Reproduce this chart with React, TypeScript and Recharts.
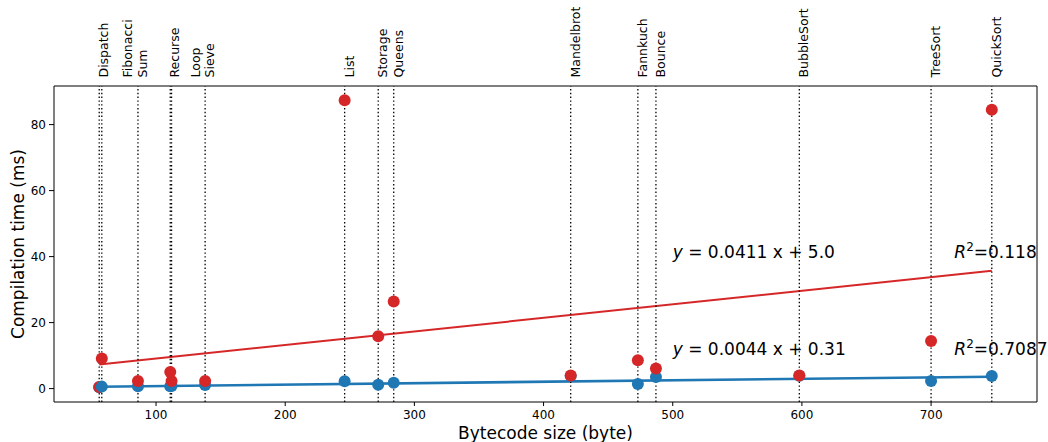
import React from 'react';
import { ComposedChart, Scatter, XAxis, YAxis, ReferenceLine, ReferenceDot } from 'recharts';

// bytecode size (byte) per benchmark, compile times (ms) for the two configurations
const sizes = [56, 58, 86, 111, 112, 138, 246, 272, 284, 421, 473, 487, 598, 700, 747];
const blueTimes = [0.4, 0.6, 0.7, 0.7, 0.8, 1.1, 2.2, 1.2, 1.8, 3.8, 1.4, 3.5, 3.9, 2.3, 3.8];
const redTimes = [0.5, 9.1, 2.3, 5.0, 2.3, 2.3, 87.4, 15.9, 26.4, 4.0, 8.6, 6.1, 4.0, 14.4, 84.5];

// benchmark names along the top, grouped where sizes are close
const labelGroups = [
  ['Dispatch'], ['Fibonacci', 'Sum'], ['Recurse'], ['Loop', 'Sieve'], ['List'], ['Storage'],
  ['Queens'], ['Mandelbrot'], ['Fannkuch'], ['Bounce'], ['BubbleSort'], ['TreeSort'], ['QuickSort'],
];
const labelAt = [56, 86, 111, 138, 246, 272, 284, 421, 473, 487, 598, 700, 747];

const xTicks = [100, 200, 300, 400, 500, 600, 700];
const yTicks = [0, 20, 40, 60, 80];

// least squares fits, end points
const redFit = [{ x: 56, y: 7.3 }, { x: 747, y: 35.7 }];
const blueFit = [{ x: 56, y: 0.56 }, { x: 747, y: 3.6 }];

const fitText = [
  { eq: ' = 0.0411 x + 5.0', r2: '=0.118', y: 39.6 },
  { eq: ' = 0.0044 x + 0.31', r2: '=0.7087', y: 10.3 },
];

const RED = '#d62728';
const BLUE = '#1f77b4';
const FONT = 'DejaVu Sans, sans-serif';
const X_DOMAIN = [21, 782];
const Y_DOMAIN = [-4.06, 91.7];

const points = sizes.flatMap((x, i) => [
  { x, y: blueTimes[i], s: 'blue' },
  { x, y: redTimes[i], s: 'red' },
]);

const Dot = (props: any) => {
  const s = props.payload?.s ?? props.s;
  return <circle cx={props.cx} cy={props.cy} r={6} fill={s === 'red' ? RED : BLUE} />;
};

const TopTick = (props: any) => {
  const { x, y, payload } = props;
  const idx = labelAt.indexOf(payload.value);
  const lines = labelGroups[idx] || [];
  return (
    <g>
      {lines.map((t, i) => (
        <text
          key={t}
          transform={`translate(${x + 9 - (lines.length - 1 - i) * 14.5},${y - 0.5}) rotate(-90)`}
          fontSize={12.5}
          fontFamily={FONT}
          fill="#000"
        >
          {t}
        </text>
      ))}
    </g>
  );
};

const EqLabel = (text: string) => (p: any) => (
  <text x={p.cx} y={p.cy} fontSize={17} fontFamily={FONT} fill="#000">
    <tspan fontStyle="italic">y</tspan>
    <tspan>{text}</tspan>
  </text>
);

const R2Label = (text: string) => (p: any) => (
  <text x={p.cx} y={p.cy} fontSize={17} fontFamily={FONT} fill="#000">
    <tspan fontStyle="italic">R</tspan>
    <tspan dy={-7} fontSize={12}>2</tspan>
    <tspan dy={7}>{text}</tspan>
  </text>
);

export default function App() {
  const tickStyle = { fill: '#000', fontSize: 12, fontFamily: FONT };
  return (
    <div style={{ position: 'absolute', left: 0, top: 0, fontFamily: FONT }}>
      <ComposedChart width={1048} height={442} margin={{ top: 0, right: 0, bottom: 0, left: 0 }} data={points}>
        <XAxis
          xAxisId="b"
          type="number"
          dataKey="x"
          domain={X_DOMAIN}
          allowDataOverflow
          ticks={xTicks}
          interval={0}
          height={40}
          tickSize={4}
          tickMargin={4}
          tick={tickStyle}
          axisLine={{ stroke: '#000' }}
          tickLine={{ stroke: '#000' }}
          label={{ value: 'Bytecode size (byte)', position: 'insideBottom', offset: 3, fontSize: 17, fill: '#000', fontFamily: FONT }}
        />
        <XAxis
          xAxisId="t"
          orientation="top"
          type="number"
          dataKey="x"
          domain={X_DOMAIN}
          allowDataOverflow
          ticks={labelAt}
          interval={0}
          height={86}
          tickSize={0}
          tickMargin={8}
          tickLine={false}
          axisLine={{ stroke: '#000' }}
          tick={<TopTick />}
        />
        <YAxis
          yAxisId="l"
          type="number"
          dataKey="y"
          domain={Y_DOMAIN}
          allowDataOverflow
          ticks={yTicks}
          interval={0}
          width={54}
          tickSize={5}
          tickMargin={3}
          tick={tickStyle}
          axisLine={{ stroke: '#000' }}
          tickLine={{ stroke: '#000' }}
          label={{ value: 'Compilation time (ms)', angle: -90, position: 'insideLeft', offset: 18, fontSize: 17, fill: '#000', fontFamily: FONT, style: { textAnchor: 'middle' } }}
        />
        <YAxis
          yAxisId="r"
          orientation="right"
          type="number"
          domain={Y_DOMAIN}
          allowDataOverflow
          width={11}
          tick={false}
          tickLine={false}
          axisLine={{ stroke: '#000' }}
        />
        <Scatter xAxisId="b" yAxisId="l" data={points} dataKey="y" shape={Dot} isAnimationActive={false} />
        <ReferenceLine xAxisId="b" yAxisId="l" segment={redFit} stroke={RED} strokeWidth={2} ifOverflow="visible" />
        <ReferenceLine xAxisId="b" yAxisId="l" segment={blueFit} stroke={BLUE} strokeWidth={2.6} ifOverflow="visible" />
        {sizes.map((s, i) => (
          <ReferenceLine key={i} xAxisId="b" yAxisId="l" x={s} stroke="#000" strokeWidth={1.3} strokeDasharray="1.4 2.4" />
        ))}
        {fitText.map((f) => (
          <ReferenceDot key={'eq' + f.y} xAxisId="b" yAxisId="l" x={500} y={f.y} r={0} ifOverflow="visible" shape={EqLabel(f.eq)} />
        ))}
        {fitText.map((f) => (
          <ReferenceDot key={'r2' + f.y} xAxisId="b" yAxisId="l" x={718} y={f.y} r={0} ifOverflow="visible" shape={R2Label(f.r2)} />
        ))}
      </ComposedChart>
    </div>
  );
}
